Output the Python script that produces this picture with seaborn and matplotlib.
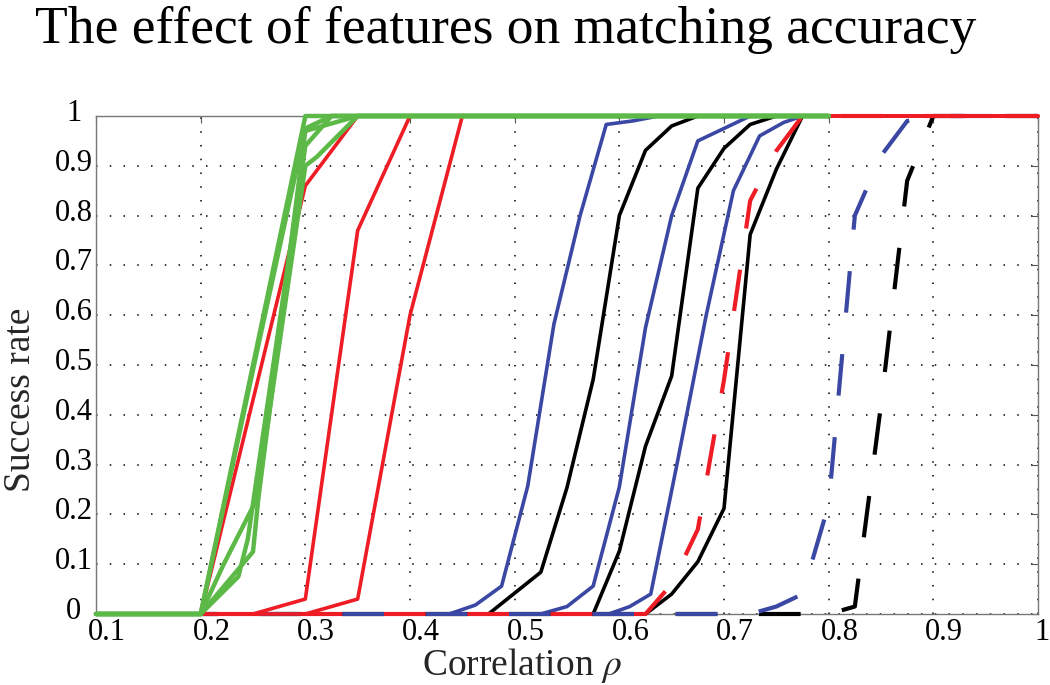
import matplotlib
matplotlib.use("Agg")
import matplotlib.pyplot as plt
from matplotlib.transforms import ScaledTranslation
import seaborn as sns

# green curves
g1_x = [0.1, 0.2, 0.3, 0.8]
g1_y = [0, 0, 1, 1]
g2_x = [0.1, 0.2, 0.25, 0.3, 0.325, 0.8]
g2_y = [0, 0, 0.49, 0.975, 1, 1]
g3_x = [0.1, 0.2, 0.25, 0.255, 0.3, 0.35, 0.8]
g3_y = [0, 0, 0.125, 0.23, 0.97, 1, 1]
g4_x = [0.1, 0.2, 0.236, 0.245, 0.3, 0.325, 0.8]
g4_y = [0, 0, 0.075, 0.15, 0.94, 1, 1]
g5_x = [0.1, 0.2, 0.222, 0.2535, 0.3, 0.311, 0.35, 0.8]
g5_y = [0, 0, 0.1, 0.23, 0.9, 0.918, 1, 1]

# red curves
r1_x = [0.2, 0.3, 0.35, 1.0]
r1_y = [0, 0.86, 1, 1]
r2_x = [0.2, 0.25, 0.3, 0.35, 0.4, 1.0]
r2_y = [0, 0, 0.03, 0.77, 1, 1]
r3_x = [0.2, 0.3, 0.35, 0.4, 0.45, 1.0]
r3_y = [0, 0, 0.03, 0.6, 1, 1]
rd_x = [0.2, 0.625, 0.65, 0.675, 0.7, 0.725, 0.75, 0.775, 1.0]
rd_y = [0, 0, 0.06, 0.17, 0.47, 0.83, 0.93, 1, 1]

# blue curves
b1_x = [0.2, 0.4375, 0.4625, 0.4875, 0.5125, 0.5375, 0.5625, 0.5875, 0.6125, 0.6375, 0.8]
b1_y = [0, 0, 0.018, 0.056, 0.257, 0.582, 0.80, 0.983, 0.99, 1, 1]
b2_x = [0.2, 0.525, 0.55, 0.575, 0.6, 0.625, 0.65, 0.675, 0.7, 0.725, 0.8]
b2_y = [0, 0, 0.015, 0.056, 0.255, 0.575, 0.80, 0.95, 0.975, 1, 1]
b3_x = [0.2, 0.59, 0.61, 0.63, 0.655, 0.683, 0.709, 0.734, 0.757, 0.775, 0.8]
b3_y = [0, 0, 0.015, 0.04, 0.3, 0.60, 0.85, 0.96, 0.987, 1, 1]
bd_x = [0.2, 0.725, 0.75, 0.775, 0.8, 0.825, 0.85, 0.875, 0.9, 1.0]
bd_y = [0, 0, 0.015, 0.04, 0.22, 0.8, 0.92, 0.99, 1, 1]

# black curves
k1_x = [0.2, 0.475, 0.525, 0.55, 0.575, 0.6, 0.625, 0.65, 0.675, 0.8]
k1_y = [0, 0, 0.084, 0.254, 0.471, 0.80, 0.931, 0.98, 1, 1]
k2_x = [0.2, 0.575, 0.6, 0.625, 0.65, 0.675, 0.7, 0.725, 0.75, 0.8]
k2_y = [0, 0, 0.126, 0.337, 0.478, 0.855, 0.935, 0.983, 1, 1]
k3_x = [0.2, 0.625, 0.65, 0.675, 0.7, 0.725, 0.75, 0.775, 0.8]
k3_y = [0, 0, 0.04, 0.105, 0.212, 0.762, 0.893, 1, 1]
kd_x = [0.2, 0.8, 0.825, 0.85, 0.875, 0.9, 1.0]
kd_y = [0, 0, 0.015, 0.42, 0.87, 1, 1]

x_ticks = [0.1, 0.2, 0.3, 0.4, 0.5, 0.6, 0.7, 0.8, 0.9, 1.0]
x_labels = ["0.1", "0.2", "0.3", "0.4", "0.5", "0.6", "0.7", "0.8", "0.9", "1"]
y_ticks = [0, 0.1, 0.2, 0.3, 0.4, 0.5, 0.6, 0.7, 0.8, 0.9, 1.0]
y_labels = ["0", "0.1", "0.2", "0.3", "0.4", "0.5", "0.6", "0.7", "0.8", "0.9", "1"]

GREEN = "#5cb947"
RED = "#ee1c25"
BLUE = "#3a48a4"
BLACK = "#000000"

sns.set_style("white")
plt.rcParams["font.family"] = ["Liberation Serif", "DejaVu Serif"]
plt.rcParams["mathtext.fontset"] = "stix"
plt.rcParams["text.color"] = "black"
plt.rcParams["xtick.color"] = "#555555"
plt.rcParams["ytick.color"] = "#555555"
plt.rcParams["xtick.labelcolor"] = "black"
plt.rcParams["ytick.labelcolor"] = "black"

fig = plt.figure(figsize=(10.5, 6.85), dpi=100)
ax = fig.add_axes([96 / 1050, 1 - 614 / 685, 942 / 1050, 498 / 685])

def draw(x, y, color, lw=2.6, ls="-"):
    sns.lineplot(x=x, y=y, ax=ax, color=color, linewidth=lw, linestyle=ls,
                 sort=False, estimator=None, clip_on=False, zorder=3)

# solid blue / black
for xs, ys in [(b1_x, b1_y), (b2_x, b2_y), (b3_x, b3_y)]:
    draw(xs, ys, BLUE)
for xs, ys in [(k1_x, k1_y), (k2_x, k2_y), (k3_x, k3_y)]:
    draw(xs, ys, BLACK)

# dashed
draw(kd_x, kd_y, BLACK, lw=3.0, ls=(6, (10, 10)))
draw(bd_x, bd_y, BLUE, lw=3.0, ls=(6, (10, 10)))
draw(rd_x, rd_y, RED, lw=3.0, ls=(16, (10, 10)))

# red solid
for xs, ys in [(r1_x, r1_y), (r2_x, r2_y), (r3_x, r3_y)]:
    draw(xs, ys, RED)

# green
for xs, ys in [(g1_x, g1_y), (g2_x, g2_y), (g3_x, g3_y), (g4_x, g4_y), (g5_x, g5_y)]:
    draw(xs, ys, GREEN, lw=3.2)

ax.set_xlim(0.1, 1.0)
ax.set_ylim(0, 1)
ax.set_xticks(x_ticks)
ax.set_xticklabels(x_labels)
ax.set_yticks(y_ticks)
ax.set_yticklabels(y_labels, ha="center")
ax.tick_params(direction="in", length=5, width=0.8,
               labelsize=22, top=True, right=True)
ax.tick_params(axis="x", pad=3)
ax.tick_params(axis="y", pad=16)
ax.grid(True, color="black", linestyle=(0, (1, 8)), linewidth=1.1)
for s in ax.spines.values():
    s.set_color("#777777")
    s.set_linewidth(1.0)

# labels sit a little off their ticks in the original
xlabs = ax.get_xticklabels()
for i, lab in enumerate(xlabs):
    dx = 0.04 if i == len(xlabs) - 1 else 0.11
    lab.set_transform(lab.get_transform() + ScaledTranslation(dx, 0, fig.dpi_scale_trans))
for lab in ax.get_yticklabels():
    lab.set_transform(lab.get_transform() + ScaledTranslation(0, 0.06, fig.dpi_scale_trans))

ax.set_xlabel(r"Correlation $\rho$", fontsize=27)
ax.set_ylabel("Success rate", fontsize=27)
ax.xaxis.set_label_coords(0.452, -0.065)
ax.yaxis.set_label_coords(-0.062, 0.43)

fig.text(0.482, 1 - 6 / 685, "The effect of features on matching accuracy",
         ha="center", va="top", fontsize=38.5)

fig.savefig("out.png", dpi=100)
